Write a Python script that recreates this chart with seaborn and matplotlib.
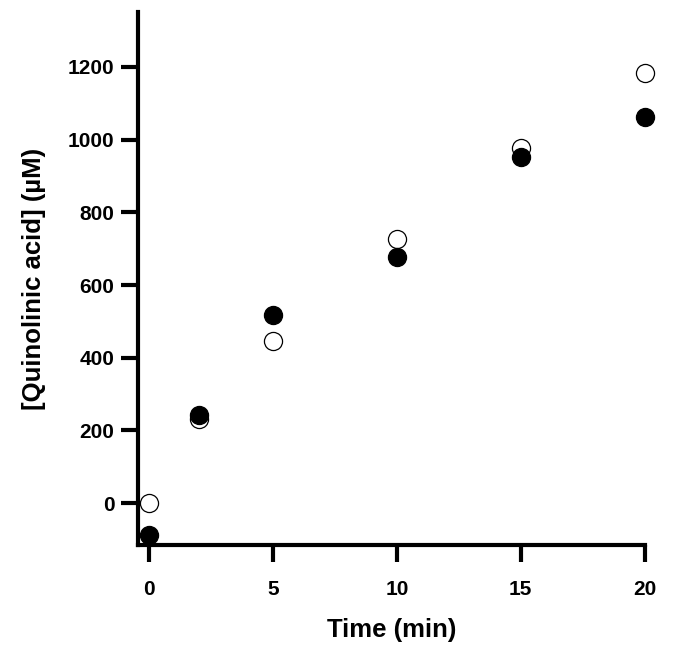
import numpy as np
import pandas as pd
import matplotlib
matplotlib.use("Agg")
import matplotlib.pyplot as plt
import seaborn as sns

# data
time_min = [0, 2, 5, 10, 15, 20]
open_vals = [0, 232, 447, 727, 978, 1182]
filled_vals = [-88, 243, 517, 677, 952, 1062]

x_ticks = [0, 5, 10, 15, 20]
y_ticks = [0, 200, 400, 600, 800, 1000, 1200]

sns.set_style("ticks")
plt.rcParams["font.family"] = ["Liberation Sans", "DejaVu Sans"]
plt.rcParams["font.weight"] = "bold"
plt.rcParams["axes.labelcolor"] = "black"

df = pd.DataFrame({"time": time_min, "open": open_vals, "filled": filled_vals})

fig = plt.figure(figsize=(6.77, 6.48), dpi=100)
ax = fig.add_axes([0.204, 0.159, 0.750, 0.822])

sns.scatterplot(data=df, x="time", y="open", ax=ax, s=170, color="white",
                edgecolor="black", linewidth=0.9, zorder=3, clip_on=False)
sns.scatterplot(data=df, x="time", y="filled", ax=ax, s=170, color="black",
                edgecolor="black", linewidth=0.9, zorder=4, clip_on=False)

ax.set_xlim(-0.45, 20.05)
ax.set_ylim(-115, 1350)
ax.set_xticks(x_ticks)
ax.set_yticks(y_ticks)

for side in ["top", "right"]:
    ax.spines[side].set_visible(False)
for side in ["left", "bottom"]:
    ax.spines[side].set_linewidth(3)
    ax.spines[side].set_color("black")
ax.spines["bottom"].set_bounds(-0.45, 20)

ax.tick_params(axis="both", width=3, length=12, color="black",
               labelsize=15, labelcolor="black")
ax.tick_params(axis="x", pad=13)
ax.tick_params(axis="y", pad=5)
for lbl in ax.get_xticklabels() + ax.get_yticklabels():
    lbl.set_fontweight("bold")

ax.set_xlabel("Time (min)", fontsize=18.5, fontweight="bold", labelpad=14)
ax.set_ylabel("[Quinolinic acid] (\u00b5M)", fontsize=18.5, fontweight="bold", labelpad=16)

fig.savefig("out.png", dpi=100)
